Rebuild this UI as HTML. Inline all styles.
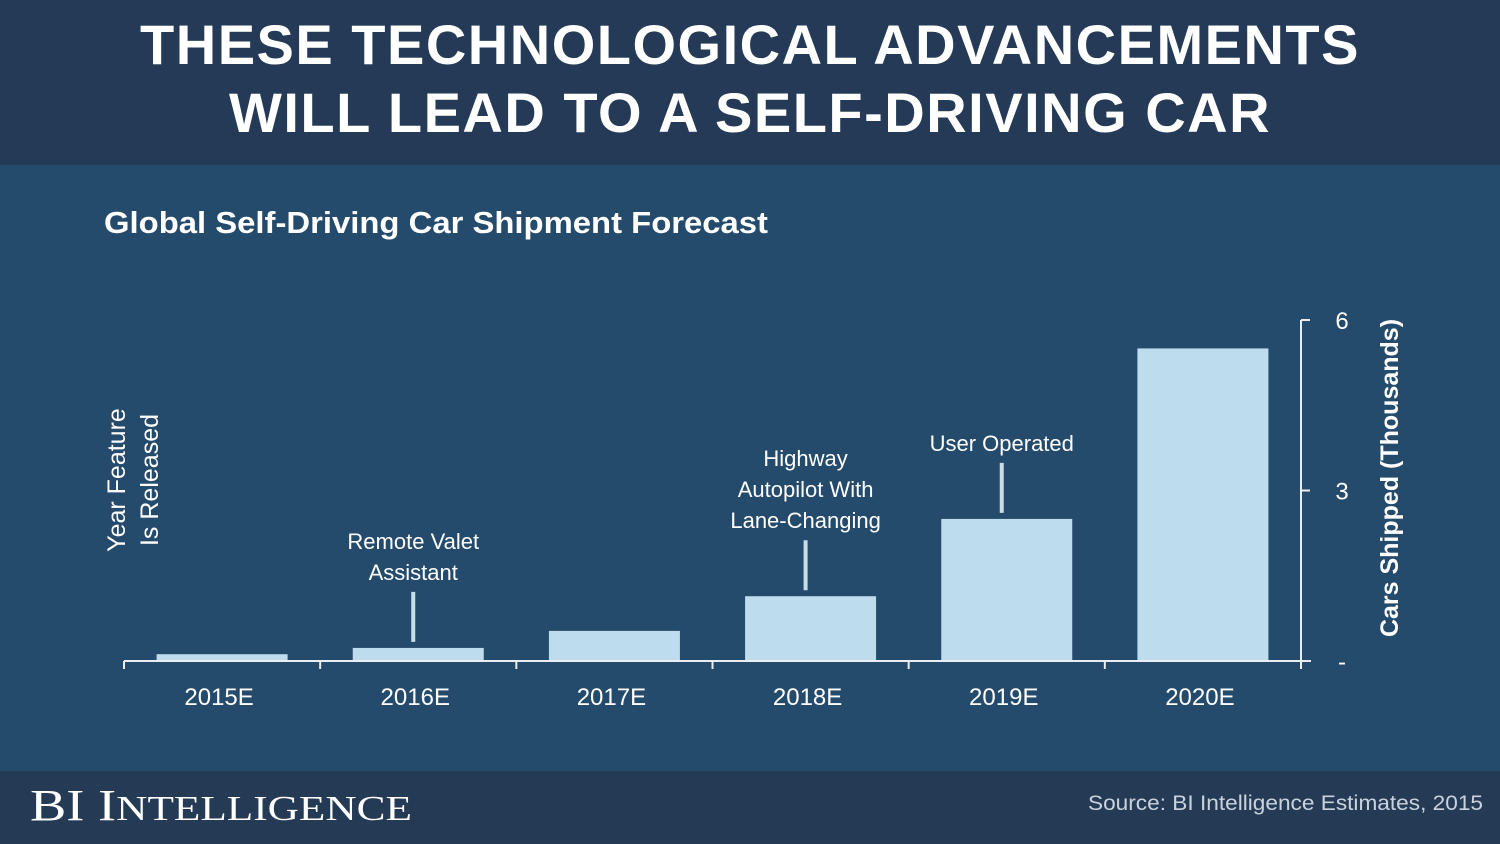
<!DOCTYPE html>
<html><head><meta charset="utf-8"><style>
body{margin:0;width:1500px;height:844px;overflow:hidden;background:#244a6c;font-family:"Liberation Sans",sans-serif}
.hdr{position:absolute;left:0;top:0;width:1500px;height:165px;background:#243a56;color:#fff;text-align:center;font-weight:bold;font-size:56px;line-height:68px;padding-top:11px;box-sizing:border-box;letter-spacing:1.5px}
.ftr{position:absolute;left:0;top:771px;width:1500px;height:73px;background:#253a54}
</style></head><body>
<div class="hdr">THESE TECHNOLOGICAL ADVANCEMENTS<br>WILL LEAD TO A SELF-DRIVING CAR</div>
<div class="ftr"></div>
<svg id="chart" width="1500" height="844" style="position:absolute;left:0;top:0">
<text x="104" y="233" fill="#fff" font-size="31" font-weight="bold" textLength="664" lengthAdjust="spacingAndGlyphs">Global Self-Driving Car Shipment Forecast</text>
<g transform="translate(125,480) rotate(-90)" fill="#fff" font-size="25" text-anchor="middle"><text x="0" y="0">Year Feature</text><text x="0" y="33">Is Released</text></g>
<text transform="translate(1398,478) rotate(-90)" fill="#fff" font-size="25" font-weight="bold" text-anchor="middle">Cars Shipped (Thousands)</text>
<text x="30" y="820" fill="#fff" font-family="Liberation Serif" font-size="44" textLength="382" lengthAdjust="spacingAndGlyphs">BI I<tspan font-size="35">NTELLIGENCE</tspan></text>
<text x="1088" y="810" fill="#c9d3de" font-size="21" textLength="395" lengthAdjust="spacingAndGlyphs">Source: BI Intelligence Estimates, 2015</text>
<g id="plot"></g>
</svg>
<script>
const categories=["2015E","2016E","2017E","2018E","2019E","2020E"];
const values=[0.12,0.23,0.53,1.14,2.5,5.5];
const yTicks=[0,3,6];
const yTickLabels=["-","3","6"];
const annotations=[null,["Remote Valet","Assistant"],null,["Highway","Autopilot With","Lane-Changing"],["User Operated"],null];
const X0=124,X1=1301,Y0=661,Y1=320,YMAX=6;
const bw=(X1-X0)/categories.length;
const y=v=>Y0-(v/YMAX)*(Y0-Y1);
const xc=i=>X0+bw*(i+0.5);
const g=document.getElementById('plot');const NS="http://www.w3.org/2000/svg";
function mk(t,a){const e=document.createElementNS(NS,t);for(const k in a)e.setAttribute(k,a[k]);g.appendChild(e);return e;}
values.forEach((v,i)=>{
 const r=mk('rect',{x:xc(i)-65.5,y:y(v),width:131,height:Y0-y(v),fill:'#bddcee'});
 
 
 const t=mk('text',{x:xc(i)-3,y:705,fill:'#fff','font-size':24,'text-anchor':'middle'});t.textContent=categories[i];
 
 
 const a=annotations[i];
 if(a){const top=y(v)-6;
  const l=mk('line',{x1:xc(i)-5,x2:xc(i)-5,y1:top,y2:top-50,stroke:'#c9dde9','stroke-width':4});
  
  
  a.forEach((s,k)=>{const tt=mk('text',{x:xc(i)-5,y:top-62-(a.length-1-k)*31,fill:'#fff','font-size':22,'text-anchor':'middle'});tt.textContent=s;
   
   });
 }
});
const ax=mk('line',{x1:X0,x2:X1+10,y1:Y0,y2:Y0,stroke:'#e8eef3','stroke-width':2});


for(let i=0;i<=categories.length;i++){const tk=mk('line',{x1:X0+bw*i,x2:X0+bw*i,y1:Y0,y2:Y0+8,stroke:'#e8eef3','stroke-width':2});
 
 }
const ya=mk('line',{x1:X1,x2:X1,y1:Y1,y2:Y0+8,stroke:'#e8eef3','stroke-width':2});


yTicks.forEach((v,i)=>{const tk=mk('line',{x1:X1,x2:X1+9,y1:y(v),y2:y(v),stroke:'#e8eef3','stroke-width':2});
 
 
 const t=mk('text',{x:1342,y:y(v)+9,fill:'#fff','font-size':24,'text-anchor':'middle'});t.textContent=yTickLabels[i];
 
 });
</script>
</body></html>
